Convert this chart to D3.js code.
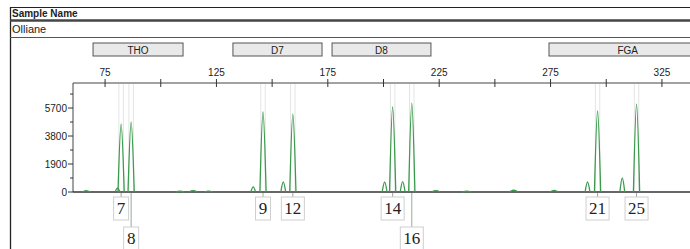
<!DOCTYPE html>
<html>
<head>
<meta charset="utf-8">
<script src="https://cdn.jsdelivr.net/npm/d3@7"></script>
<style>
  body { margin: 0; background: #fff; }
  svg { display: block; font-family: "Liberation Sans", Arial, sans-serif; }
</style>
</head>
<body>
<div id="chart"></div>
<script>
// loci shown in the header boxes (size range in bp)
var loci = ["THO", "D7", "D8", "FGA"]
var locusStart = [69.6, 132.4, 176.9, 274.3]
var locusEnd = [110.0, 172.4, 221.3, 345]

// axis ticks
var sizeTicks = [75, 100, 125, 150, 175, 200, 225, 250, 275, 300, 325]
var sizeLabels = [75, 125, 175, 225, 275, 325]
var rfuTicks = [0, 950, 1900, 2850, 3800, 4750, 5700, 6650]
var rfuLabels = [0, 1900, 3800, 5700]

// called alleles
var alleleLabel = ["7", "8", "9", "12", "14", "16", "21", "25"]
var alleleLocus = ["THO", "THO", "D7", "D7", "D8", "D8", "FGA", "FGA"]
var alleleSize = [82.2, 86.7, 145.9, 159.3, 204.1, 212.7, 296.1, 313.6]
var alleleRfu = [4610, 4750, 5430, 5290, 5770, 6040, 5500, 5970]

// stutter and small noise peaks
var minorSize = [66.5, 80.6, 108.6, 114.5, 121.5, 141.5, 155.0, 200.5, 208.6, 223.5, 237.4, 258.5, 276.6, 291.6, 307.2]
var minorRfu = [100, 260, 50, 90, 60, 350, 680, 680, 700, 90, 50, 120, 110, 680, 950]

var width = 690, height = 249

var svg = d3.select("#chart").append("svg")
    .attr("width", width)
    .attr("height", height)

var x = d3.scaleLinear().domain([60.6, 337.6]).range([73, 690])
var y = d3.scaleLinear().domain([0, 7400]).range([192, 83])

// header frame
svg.append("line").attr("x1", 10).attr("x2", width).attr("y1", 7.5).attr("y2", 7.5)
    .attr("stroke", "#222").attr("stroke-width", 1.2)
svg.append("line").attr("x1", 10.5).attr("x2", 10.5).attr("y1", 7).attr("y2", height)
    .attr("stroke", "#222").attr("stroke-width", 1.3)
svg.append("text").attr("x", 12).attr("y", 17).text("Sample Name")
    .attr("font-size", 10).attr("font-weight", "bold").attr("fill", "#222")
svg.append("line").attr("x1", 10).attr("x2", width).attr("y1", 20.5).attr("y2", 20.5)
    .attr("stroke", "#444").attr("stroke-width", 2.5)
svg.append("text").attr("x", 12).attr("y", 33).text("Olliane")
    .attr("font-size", 11).attr("fill", "#222")
svg.append("line").attr("x1", 10).attr("x2", width).attr("y1", 37.5).attr("y2", 37.5)
    .attr("stroke", "#555").attr("stroke-width", 1.2)

// locus boxes
var boxes = svg.selectAll(".locus")
    .data(loci)
    .enter().append("g")
boxes.append("rect")
    .attr("x", function (d, i) { return x(locusStart[i]) })
    .attr("y", 43)
    .attr("width", function (d, i) { return x(locusEnd[i]) - x(locusStart[i]) })
    .attr("height", 13)
    .attr("fill", "#e9e9e9")
    .attr("stroke", "#555")
    .attr("stroke-width", 1)
boxes.append("text")
    .attr("x", function (d, i) { return (x(locusStart[i]) + Math.min(x(locusEnd[i]), 725)) / 2 })
    .attr("y", 53.5)
    .attr("text-anchor", "middle")
    .attr("font-size", 10)
    .attr("fill", "#222")
    .text(function (d) { return d })

// bins - faint vertical lines around each allele
svg.selectAll(".bin")
    .data(alleleSize.flatMap(function (s) { return [s - 1, s + 1] }))
    .enter().append("line")
    .attr("x1", function (d) { return x(d) }).attr("x2", function (d) { return x(d) })
    .attr("y1", 84).attr("y2", 191)
    .attr("stroke", "#e4e4e4").attr("stroke-width", 1)

// top size axis
var sizeAxis = svg.append("g").attr("transform", "translate(0,83)")
sizeAxis.append("line").attr("x1", 73).attr("x2", width).attr("stroke", "#444").attr("stroke-width", 1)
sizeAxis.selectAll(".tk").data(sizeTicks).enter().append("line")
    .attr("x1", function (d) { return x(d) }).attr("x2", function (d) { return x(d) })
    .attr("y1", -4).attr("y2", 4).attr("stroke", "#333")
sizeAxis.selectAll(".lb").data(sizeLabels).enter().append("text")
    .attr("x", function (d) { return x(d) }).attr("y", -7)
    .attr("text-anchor", "middle").attr("font-size", 10).attr("fill", "#222")
    .text(function (d) { return d })

// left rfu axis
var rfuAxis = svg.append("g").attr("transform", "translate(73,0)")
rfuAxis.append("line").attr("y1", 83).attr("y2", 192).attr("stroke", "#444")
rfuAxis.selectAll(".tk").data(rfuTicks).enter().append("line")
    .attr("x1", function (d) { return rfuLabels.indexOf(d) >= 0 ? -5 : -3 }).attr("x2", 0)
    .attr("y1", function (d) { return y(d) }).attr("y2", function (d) { return y(d) })
    .attr("stroke", "#333")
rfuAxis.selectAll(".lb").data(rfuLabels).enter().append("text")
    .attr("x", -6).attr("y", function (d) { return y(d) + 3.5 })
    .attr("text-anchor", "end").attr("font-size", 10).attr("fill", "#222")
    .text(function (d) { return d })

// baseline
svg.append("line").attr("x1", 73).attr("x2", width).attr("y1", y(0)).attr("y2", y(0))
    .attr("stroke", "#333").attr("stroke-width", 1.3)

// trace: baseline with every peak drawn as a narrow bell
var peaks = alleleSize.map(function (s, i) { return [s, alleleRfu[i]] })
    .concat(minorSize.map(function (s, i) { return [s, minorRfu[i]] }))
    .sort(function (a, b) { return a[0] - b[0] })
var line = d3.line()
    .x(function (d) { return x(d[0]) })
    .y(function (d) { return y(d[1]) })
    .curve(d3.curveMonotoneX)
peaks.forEach(function (p) {
    var w = p[1] > 2000 ? 1.4 : (p[1] > 200 ? 1.1 : 2.0)
    svg.append("path")
        .datum([[p[0] - w, 0], [p[0], p[1]], [p[0] + w, 0]])
        .attr("d", line)
        .attr("fill", "none")
        .attr("stroke", "#3b9a4c")
        .attr("stroke-width", 1.3)
})

// allele call labels, staggered when close to the previous call of the locus
function labelTop(i) {
    var close = i > 0 && alleleLocus[i] === alleleLocus[i - 1] &&
        x(alleleSize[i]) - x(alleleSize[i - 1]) < 25
    return close ? 227 : 197
}
var labels = svg.selectAll(".allele")
    .data(alleleLabel)
    .enter().append("g")
    .attr("transform", function (d, i) {
        return "translate(" + x(alleleSize[i]) + "," + labelTop(i) + ")"
    })
labels.append("line")
    .attr("y1", function (d, i) { return y(0) + 1 - labelTop(i) })
    .attr("y2", 0)
    .attr("stroke", "#9aaa9a").attr("stroke-width", 1)
labels.append("rect")
    .attr("x", function (d) { return d.length > 1 ? -11.5 : -7.5 })
    .attr("width", function (d) { return d.length > 1 ? 23 : 15 })
    .attr("height", 23)
    .attr("fill", "#fff")
    .attr("stroke", "#cfcfcf")
labels.append("text")
    .attr("y", 17)
    .attr("text-anchor", "middle")
    .attr("font-family", "'Liberation Serif', 'Times New Roman', serif")
    .attr("font-size", 17)
    .attr("fill", "#222")
    .text(function (d) { return d })
</script>
</body>
</html>
